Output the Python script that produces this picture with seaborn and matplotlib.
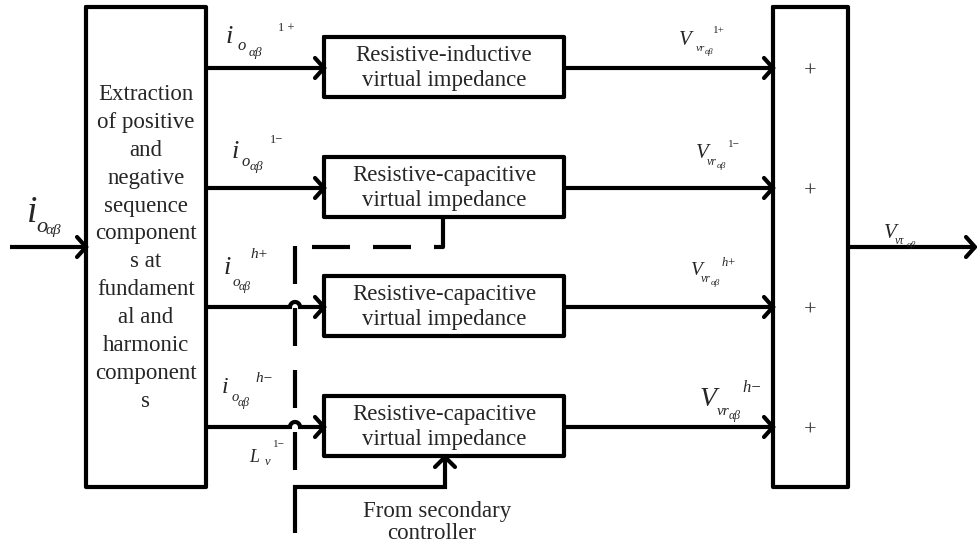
import numpy as np
import matplotlib
matplotlib.use("Agg")
import matplotlib.pyplot as plt
import seaborn as sns

# ---------------- content ----------------
extract_lines = ["Extraction", "of positive", "and", "negative", "sequence",
                 "component", "s at", "fundament", "al and", "harmonic",
                 "component", "s"]
block_titles = ["Resistive-inductive", "Resistive-capacitive",
                "Resistive-capacitive", "Resistive-capacitive"]
block_subtitles = ["virtual impedance"] * 4
branch_rows = [68, 188, 307, 427]
sum_signs = ["+", "+", "+", "+"]
# current labels: main symbol, subscript, sub-subscript, superscript
cur_main = ["i", "i", "i", "i"]
cur_sub = ["o", "o", "o", "o"]
cur_subsub = ["\u03b1\u03b2"] * 4
cur_sup = ["1 +", "1\u2212", "h+", "h\u2212"]
# voltage labels
vol_main = ["V", "V", "V", "V"]
vol_sub = ["vr", "vr", "vr", "vr"]
vol_subsub = ["\u03b1\u03b2"] * 4
vol_sup = ["1+", "1\u2212", "h+", "h\u2212"]
# input / output / droop
in_parts = ["i", "o", "\u03b1\u03b2"]
out_parts = ["V", "v\u03c4", "\u03b1\u03b2"]
droop_parts = ["L", "v", "1\u2212"]
source_lines = ["From secondary", "controller"]

# ---------------- style ----------------
sns.set_theme(style="white")
plt.rcParams["font.family"] = ["Liberation Serif", "DejaVu Serif"]
plt.rcParams["lines.scale_dashes"] = False

W, H = 977, 547
fig = plt.figure(figsize=(W / 100, H / 100), dpi=100)
ax = fig.add_axes([0, 0, 1, 1])
ax.set_xlim(0, W)
ax.set_ylim(H, 0)
ax.axis("off")
fig.patch.set_facecolor("white")

LW = 3.0
K = "black"
PX = 0.72  # points per pixel at 100 dpi


def seg(xs, ys, **kw):
    ax.plot(xs, ys, color=K, lw=LW, solid_capstyle="butt",
            solid_joinstyle="miter", **kw)


def rect(x0, y0, x1, y1):
    ax.plot([x0, x1, x1, x0, x0], [y0, y0, y1, y1, y0], color=K, lw=LW,
            solid_joinstyle="round", solid_capstyle="round")


def head(tx, ty, d="r"):
    if d == "r":
        xs, ys = [tx - 9, tx, tx - 9], [ty - 10, ty, ty + 10]
    else:  # up
        xs, ys = [tx - 10, tx, tx + 10], [ty + 10, ty, ty + 10]
    ax.plot(xs, ys, color=K, lw=LW, solid_capstyle="round",
            solid_joinstyle="miter")


def piece(x, y, s, size, italic=True):
    ax.text(x, y, s, fontsize=size, va="baseline", ha="left",
            style="italic" if italic else "normal")


def label(parts, layout):
    for s, (x, y, size, it) in zip(parts, layout):
        piece(x, y, s, size, it)


# left extraction block
LX0, LX1, TOP, BOT = 86, 206, 7, 487
rect(LX0, TOP, LX1, BOT)
for i, t in enumerate(extract_lines):
    ax.text((LX0 + LX1) / 2, 100 + i * 27.9, t, ha="center", va="baseline",
            fontsize=16.5)

# summation block
SX0, SX1 = 773, 848
rect(SX0, TOP, SX1, BOT)
for y, s in zip(branch_rows, sum_signs):
    ax.text(810, y + 4, s, ha="center", va="center", fontsize=16,
            color="#333333")

# input / output
MID = 247
seg([10, LX0], [MID, MID])
head(LX0, MID)
seg([SX1, 975], [MID, MID])
head(975, MID)
label(in_parts, [(27, 222, 27, True), (36, 232, 16, True),
                 (46, 234, 11, True)])
label(out_parts, [(884, 238, 15, True), (895, 244, 8.5, True),
                  (907, 247, 6.5, True)])

# impedance blocks
BX0, BX1 = 324, 564
CROSS_X = 295
for k, y in enumerate(branch_rows):
    top = y - 31
    rect(BX0, top, BX1, top + 60)
    cx = (BX0 + BX1) / 2
    ax.text(cx, top + 24, block_titles[k], ha="center", va="baseline",
            fontsize=16.5)
    ax.text(cx, top + 49, block_subtitles[k], ha="center", va="baseline",
            fontsize=16.5)
    if k >= 2:  # line hops over the dashed path
        th = np.linspace(np.pi, 0, 20)
        xs = np.concatenate([[LX1], CROSS_X + 5 * np.cos(th), [BX0]])
        ys = np.concatenate([[y], y - 5 * np.sin(th), [y]])
        seg(xs, ys)
    else:
        seg([LX1, BX0], [y, y])
    head(BX0, y)
    seg([BX1, SX0], [y, y])
    head(SX0, y)

# current labels
cur_layout = [
    [(226, 43, 19, True), (237, 50, 12, True), (249, 56, 9.5, True), (278, 31, 9, False)],
    [(232, 158, 19, True), (242, 166, 12, True), (250, 170, 9.5, True), (270, 143, 9, False)],
    [(224, 274, 19, True), (233, 286, 11, True), (239, 290, 8.5, True), (250, 258, 11, True)],
    [(222, 393, 17, True), (232, 401, 10.5, True), (238, 406, 8.5, True), (255, 382, 11, True)],
]
for k in range(4):
    label([cur_main[k], cur_sub[k], cur_subsub[k], cur_sup[k]], cur_layout[k])

# voltage labels
vol_layout = [
    [(679, 45, 15, True), (696, 51, 8, True), (705, 54, 6, True), (713, 33, 8, False)],
    [(696, 158, 15, True), (707, 165, 8.5, True), (717, 168, 6.5, True), (728, 147, 8, False)],
    [(691, 275, 14, True), (701, 282, 8.5, True), (711, 285, 6.5, True), (722, 266, 9, True)],
    [(700, 406, 20, True), (717, 415, 11, True), (729, 419, 8.5, True), (742, 392, 12, True)],
]
for k in range(4):
    label([vol_main[k], vol_sub[k], vol_subsub[k], vol_sup[k]], vol_layout[k])

# droop label
label(droop_parts, [(249, 462, 13, True), (265, 465, 9, True),
                    (273, 447, 8, False)])

# dashed control path from the second block
ax.plot([443, 443, CROSS_X], [218, MID, MID], color=K, lw=LW,
        dashes=(38 * PX, 23 * PX), dash_capstyle="butt",
        solid_joinstyle="miter")
ax.plot([CROSS_X, CROSS_X], [MID - 1, 472], color=K, lw=LW,
        dashes=(38 * PX, 24 * PX), dash_capstyle="butt")

# solid path from secondary controller
seg([CROSS_X, CROSS_X, 445, 445], [533, 487, 487, 459])
head(445, 457, "u")
ax.text(437, 517, source_lines[0], ha="center", va="baseline", fontsize=16.5)
ax.text(432, 539, source_lines[1], ha="center", va="baseline", fontsize=16.5)

fig.savefig("out.png", dpi=100, facecolor="white")
